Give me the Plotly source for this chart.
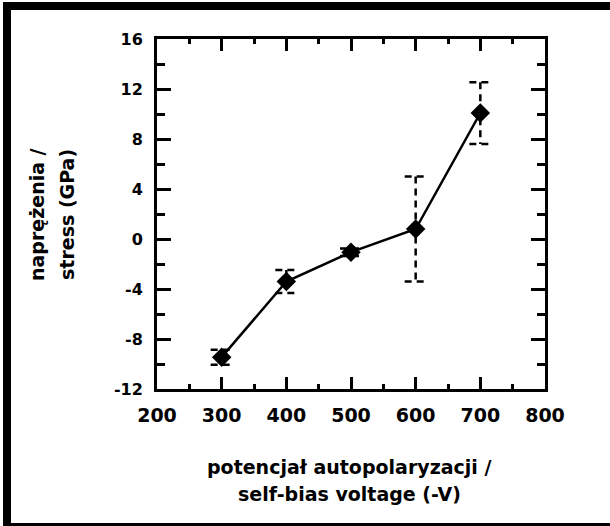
import plotly.graph_objects as go

# ---- data ----
voltage = [300, 400, 500, 600, 700]          # self-bias voltage (-V)
stress = [-9.45, -3.4, -1.05, 0.8, 10.08]     # GPa
stress_err = [0.6, 0.92, 0.3, 4.2, 2.47]      # GPa

x_ticks = [200, 300, 400, 500, 600, 700, 800]
y_ticks = [-12, -8, -4, 0, 4, 8, 12, 16]
y_tick_labels = ["-12", "-8", "-4", "0", "4", "8", "12", "16"]

x_title_lines = ["potencjał autopolaryzacji /", "self-bias voltage (-V)"]
y_title_lines = ["naprężenia /", "stress (GPa)"]

# ---- style ----
FONT = "DejaVu Sans"
CAP = 17  # half cap width in x units

W, H = 610, 526
ML, MR, MT, MB = 157, 65, 39, 137
PW, PH = W - ML - MR, H - MT - MB


def px_to_paper_x(px):
    return (px - ML) / PW


def px_to_paper_y(py):
    return (H - MB - py) / PH


# error bar path built from the data
ex, ey = [], []
for x, y, e in zip(voltage, stress, stress_err):
    ex += [x - CAP, x + CAP, None, x, x, None, x - CAP, x + CAP, None]
    ey += [y + e, y + e, None, y + e, y - e, None, y - e, y - e, None]

fig = go.Figure()
fig.add_trace(go.Scatter(
    x=ex, y=ey, mode="lines",
    line=dict(color="black", width=2.5, dash="7px,5px"),
    hoverinfo="skip", showlegend=False, connectgaps=False,
))
fig.add_trace(go.Scatter(
    x=voltage, y=stress, mode="lines+markers",
    line=dict(color="black", width=2.5),
    marker=dict(symbol="diamond", size=15, color="black", line=dict(width=0)),
    showlegend=False,
))

axis_common = dict(
    showline=True, linecolor="black", linewidth=3, mirror="ticks",
    ticks="inside", tickcolor="black", tickwidth=2.5,
    showgrid=False, zeroline=False,
)

fig.update_xaxes(
    range=[200, 800], tickvals=x_ticks, ticklen=12,
    tickfont=dict(family=FONT, size=19, color="black", weight="bold"),
    minor=dict(dtick=50, ticks="inside", ticklen=5, tickwidth=2.5, tickcolor="black", showgrid=False),
    ticklabelstandoff=7,
    **axis_common,
)
fig.update_yaxes(
    range=[-12, 16], tickvals=y_ticks, ticktext=y_tick_labels, ticklen=14,
    tickfont=dict(family=FONT, size=16, color="black", weight="bold"),
    minor=dict(dtick=2, ticks="inside", ticklen=8, tickwidth=2.5, tickcolor="black", showgrid=False),
    ticklabelstandoff=8,
    **axis_common,
)

annotations = []
for text, py in zip(x_title_lines, [467, 494]):
    annotations.append(dict(
        text=text, xref="paper", yref="paper",
        x=px_to_paper_x(349), y=px_to_paper_y(py),
        xanchor="center", yanchor="middle", showarrow=False,
        font=dict(family=FONT, size=19, color="black", weight="bold"),
    ))
for text, px in zip(y_title_lines, [37, 67]):
    annotations.append(dict(
        text=text, xref="paper", yref="paper",
        x=px_to_paper_x(px), y=px_to_paper_y(215),
        xanchor="center", yanchor="middle", showarrow=False, textangle=-90,
        font=dict(family=FONT, size=19, color="black", weight="bold"),
    ))

# outer black frame
frame = dict(
    type="rect", xref="paper", yref="paper",
    x0=px_to_paper_x(7), x1=px_to_paper_x(625),
    y0=px_to_paper_y(527), y1=px_to_paper_y(6),
    line=dict(color="black", width=8), fillcolor="rgba(0,0,0,0)", layer="above",
)

fig.update_layout(
    width=W, height=H,
    margin=dict(l=ML, r=MR, t=MT, b=MB, pad=0),
    paper_bgcolor="white", plot_bgcolor="white",
    annotations=annotations, shapes=[frame],
    showlegend=False,
)

fig.write_html(
    "out.html",
    config={"displayModeBar": False},
    post_script="document.body.style.margin='0';document.body.style.overflow='hidden';",
)
